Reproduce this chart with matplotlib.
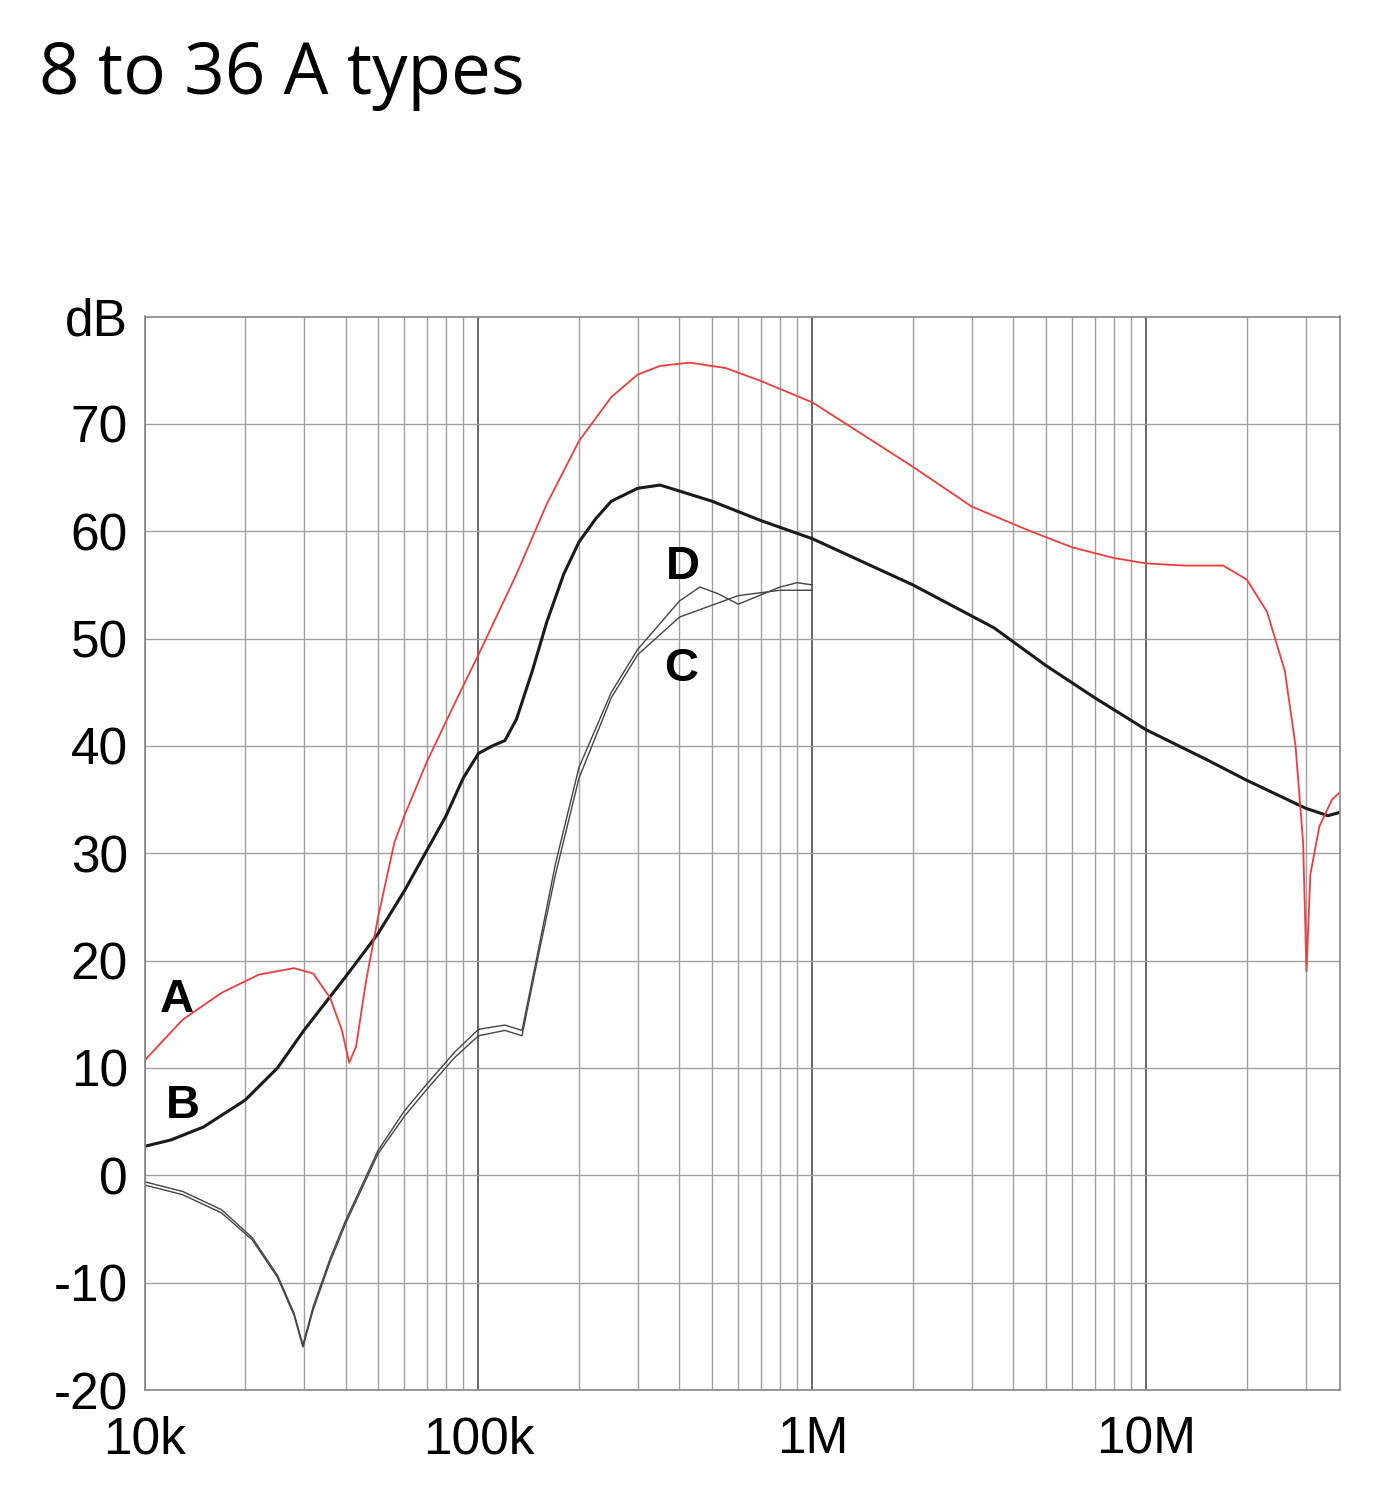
import matplotlib
matplotlib.use("Agg")
import matplotlib.pyplot as plt
from matplotlib.ticker import FixedLocator, NullFormatter

# Frequency (Hz) / level (dB)
a_freq = [1e4, 1.3e4, 1.7e4, 2.2e4, 2.8e4, 3.2e4, 3.6e4, 3.9e4, 4.1e4, 4.3e4, 4.6e4, 5e4, 5.6e4, 6e4,
          7e4, 8.5e4, 1e5, 1.3e5, 1.6e5, 2e5, 2.5e5, 3e5, 3.5e5, 4.3e5, 5.5e5, 7e5, 1e6, 1.5e6, 2e6,
          3e6, 4.5e6, 6e6, 8e6, 1e7, 1.3e7, 1.7e7, 2e7, 2.3e7, 2.6e7, 2.8e7, 2.95e7, 3.02e7, 3.1e7,
          3.3e7, 3.6e7, 4e7]
a_db = [10.7, 14.5, 17.0, 18.7, 19.3, 18.8, 16.5, 13.5, 10.5, 12.0, 18.0, 24.0, 31.0, 33.5,
        38.5, 44.0, 48.5, 56.0, 62.5, 68.4, 72.5, 74.6, 75.4, 75.7, 75.2, 74.0, 72.0, 68.5, 66.0,
        62.3, 60.0, 58.5, 57.5, 57.0, 56.8, 56.8, 55.5, 52.5, 47.0, 40.0, 31.0, 19.0, 28.0,
        32.5, 35.0, 36.3]

b_freq = [1e4, 1.2e4, 1.5e4, 2e4, 2.5e4, 3e4, 4e4, 5e4, 6e4, 8e4, 9e4, 1e5, 1.1e5, 1.2e5, 1.3e5,
          1.45e5, 1.6e5, 1.8e5, 2e5, 2.25e5, 2.5e5, 3e5, 3.5e5, 5e5, 7e5, 1e6, 2e6, 3.5e6, 5e6,
          7e6, 1e7, 1.5e7, 2e7, 3e7, 3.5e7, 4e7]
b_db = [2.7, 3.3, 4.5, 7.0, 10.0, 13.5, 18.5, 22.5, 26.5, 33.5, 37.0, 39.3, 40.0, 40.5, 42.5,
        47.0, 51.5, 56.0, 59.0, 61.2, 62.8, 64.0, 64.3, 62.8, 61.0, 59.3, 55.0, 51.0, 47.5,
        44.5, 41.5, 38.8, 36.8, 34.2, 33.5, 34.0]

c_freq = [1e4, 1.3e4, 1.7e4, 2.1e4, 2.5e4, 2.8e4, 2.98e4, 3.2e4, 3.6e4, 4e4, 5e4, 6e4, 7e4, 8.5e4,
          1e5, 1.2e5, 1.35e5, 1.5e5, 1.7e5, 2e5, 2.5e5, 3e5, 4e5, 6e5, 8e5, 1e6]
c_db = [-0.9, -1.8, -3.5, -6.0, -9.5, -13.0, -16.0, -12.5, -8.0, -4.5, 2.0, 5.5, 8.0, 11.0,
        13.0, 13.5, 13.0, 20.0, 28.0, 37.0, 44.5, 48.5, 52.0, 54.0, 54.5, 54.5]
d_freq = [1e4, 1.3e4, 1.7e4, 2.1e4, 2.5e4, 2.8e4, 2.98e4, 3.2e4, 3.6e4, 4e4, 5e4, 6e4, 7e4, 8.5e4,
          1e5, 1.2e5, 1.35e5, 1.5e5, 1.7e5, 2e5, 2.5e5, 3e5, 4e5, 4.6e5, 5.2e5, 6e5, 8e5, 9e5, 1e6]
d_db = [-0.6, -1.5, -3.2, -5.8, -9.3, -12.8, -15.8, -12.2, -7.7, -4.2, 2.3, 6.0, 8.5, 11.5,
        13.6, 14.0, 13.5, 20.5, 29.0, 38.0, 45.0, 49.0, 53.5, 54.8, 54.2, 53.2, 54.8, 55.2, 55.0]

labels = ["A", "B", "C", "D"]
label_pos = [(1.25e4, 16.3), (1.3e4, 6.5), (4.05e5, 47.2), (4.1e5, 56.7)]

x_major = [1e4, 1e5, 1e6, 1e7]
x_major_labels = ["10k", "100k", "1M", "10M"]
y_ticks = [-20, -10, 0, 10, 20, 30, 40, 50, 60, 70, 80]
y_labels = ["-20", "-10", "0", "10", "20", "30", "40", "50", "60", "70", "dB"]

fig = plt.figure(figsize=(13.77, 15), dpi=100)
ax = fig.add_axes([0.105, 0.0733, 0.868, 0.7157])

x_minor = [m * 10 ** e for e in range(4, 8) for m in range(2, 10) if m * 10 ** e <= 4e7]

ax.set_xscale("log")
ax.set_xlim(1e4, 3.8e7)
ax.set_ylim(-20, 80)
ax.xaxis.set_major_locator(FixedLocator(x_major))
ax.set_xticklabels(x_major_labels)
ax.xaxis.set_minor_locator(FixedLocator(x_minor))
ax.xaxis.set_minor_formatter(NullFormatter())
ax.set_yticks(y_ticks)
ax.set_yticklabels(y_labels)

ax.grid(True, which="major", axis="x", color="#666666", linewidth=1.4)
ax.grid(True, which="minor", axis="x", color="#a0a0a0", linewidth=1.0)
ax.grid(True, which="major", axis="y", color="#a0a0a0", linewidth=1.0)
ax.tick_params(which="both", length=0, labelsize=37, pad=12)
ax.tick_params(axis="x", pad=18)
for t in ax.get_xticklabels() + ax.get_yticklabels():
    t.set_family("Liberation Sans")
for s in ax.spines.values():
    s.set_color("#888888")
    s.set_linewidth(1.2)

ax.plot(c_freq, c_db, color="#444444", linewidth=1.0)
ax.plot(d_freq, d_db, color="#444444", linewidth=1.0)
ax.plot(b_freq, b_db, color="#1a1a1a", linewidth=2.2)
ax.plot(a_freq, a_db, color="#f03c3c", linewidth=1.3)

for lab, (x, y) in zip(labels, label_pos):
    ax.text(x, y, lab, fontsize=34, fontweight="bold", family="Liberation Sans",
            ha="center", va="center")

fig.text(0.028, 0.95, "8 to 36 A types", fontsize=51, family="Open Sans", va="center")

fig.savefig("out.png", dpi=100)
